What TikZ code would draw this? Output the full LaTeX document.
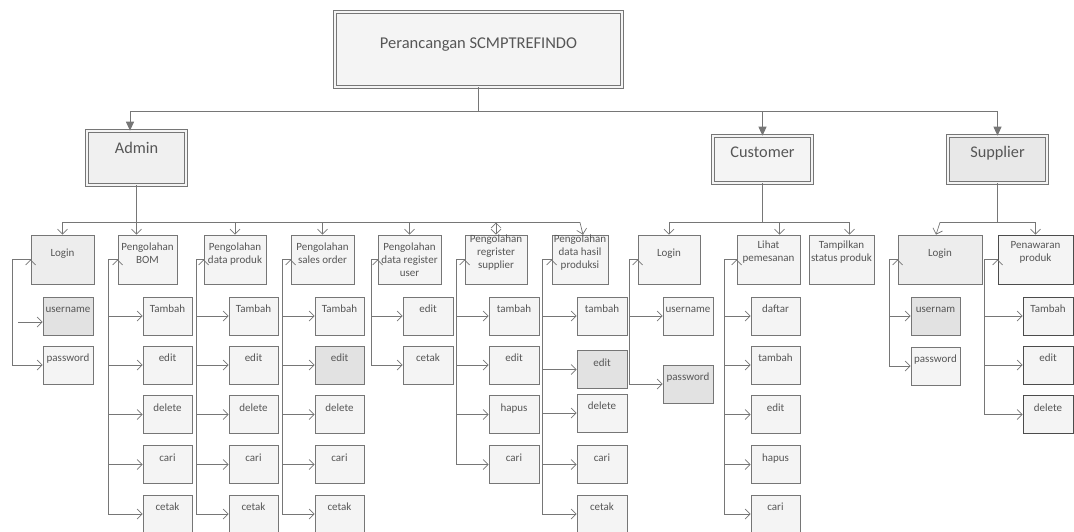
\documentclass[tikz,border=0pt]{standalone}
\usepackage{fontspec}
\setmainfont{Carlito}
\usetikzlibrary{arrows.meta}
\definecolor{lin}{HTML}{767676}
\definecolor{txt}{HTML}{565656}
\definecolor{pale}{HTML}{F4F4F4}
\definecolor{dim}{HTML}{E2E2E2}
\begin{document}
\begin{tikzpicture} [
  x=1pt, y=-1pt,
  font=\fontsize{11}{13}\selectfont, text=txt,
  box/.style={draw=lin, fill=pale, line width=0.7pt, inner xsep=1pt, inner ysep=0pt, align=center},
  dark/.style={fill=dim},
  head/.style={box, double=pale, double distance=2pt, line width=0.6pt,
    font=\fontsize{16.3}{18}\selectfont, minimum width=99, minimum height=47,
    text height=21pt, text depth=26pt},
  menu/.style={box, minimum width=#1, minimum height=49, text height=28.5pt, text depth=20.5pt},
  one/.style={text height=21.5pt, text depth=27.5pt},
  three/.style={text height=41.5pt, text depth=7.5pt},
  high/.style={text height=33.5pt, text depth=15.5pt},
  mid/.style={text height=26.5pt, text depth=22.5pt},
  leaf/.style={box, minimum width=#1, minimum height=38, text height=15.5pt, text depth=22.5pt},
  leaf/.default=49,
  main/.style={draw=lin, line width=0.9pt, -{Triangle[width=8pt,length=9pt]}},
  sub/.style={draw=lin, line width=0.7pt, -{Straight Barb[width=10pt,length=5pt]}},
  brn/.style={to path={-- ++(-#1,0) |- (\tikztotarget)}}]
\useasboundingbox (0,0) rectangle (1074,531);

% top level
\node[head, minimum width=287, minimum height=75, text height=36pt, text depth=39pt, font=\fontsize{16.5}{18}\selectfont] (title) at (478.5,49.5) {Perancangan SCMPTREFINDO};
\node[head, fill=gray!12, minimum height=54, text height=22pt, text depth=32pt] (admin) at (136.5,158) {Admin};
\node[head] (customer) at (762.5,159.5) {Customer};
\node[head, fill=gray!18] (supplier) at (997.5,159.5) {Supplier};

\coordinate (bus) at (130,111);
\coordinate (row) at (0,222.5);
\draw[main] (title.south) |- (bus) -- (bus |- admin.north);
\draw[main] (title.south) |- (supplier.north |- bus) -- (supplier.north);
\draw[main] (customer.north |- bus) -- (customer.north);

% menus
\node[menu=63, one, fill=gray!14] (aLogin) at (62.5,259.5) {Login};
\node[menu=59] (aBOM) at (147.5,259.5) {Pengolahan\\BOM};
\node[menu=62] (aProduk) at (235,259.5) {Pengolahan\\data produk};
\node[menu=63] (aSales) at (322.5,259.5) {Pengolahan\\sales order};
\node[menu=63, three] (aUser) at (409.5,259.5) {Pengolahan\\data register\\user};
\node[menu=62, high] (aSupp) at (496,259.5) {Pengolahan\\regrister\\supplier};
\node[menu=56, high] (aHasil) at (580,259.5) {Pengolahan\\data hasil\\produksi};
\node[menu=62, one] (cLogin) at (669,259.5) {Login};
\node[menu=63, mid] (cLihat) at (768.5,259.5) {Lihat\\pemesanan};
\node[menu=65, mid] (cStatus) at (841.5,259.5) {Tampilkan\\status produk};
\node[menu=84, one, fill=gray!14] (sLogin) at (940,259.5) {Login};
\node[menu=75, mid, draw=gray!60!black] (sTawar) at (1035.5,259.5) {Penawaran\\produk};

\draw[sub] (admin.south) |- (aLogin.north |- row) -- (aLogin.north);
\draw[sub] (admin.south) |- (aHasil.north |- row) -- ([xshift=3]aHasil.north);
\draw[sub] (admin.south) -- (admin.south |- aBOM.north);
\draw[sub] (aProduk.north |- row) edge (aProduk.north)
  (aSales.north |- row) edge (aSales.north)
  (aUser.north |- row) edge (aUser.north)
  (aSupp.north |- row) edge (aSupp.north);
\draw[sub] (customer.south) |- (cLogin.north |- row) -- (cLogin.north);
\draw[sub] (customer.south) |- ([xshift=8]cStatus.north |- row) -- ([xshift=8]cStatus.north);
\draw[sub] ([xshift=11]cLihat.north |- row) -- ([xshift=11]cLihat.north);
\draw[sub] (supplier.south) |- (sLogin.north |- row) -- ([xshift=-4]sLogin.north);
\draw[sub] (supplier.south) |- (sTawar.north |- row) -- (sTawar.north);

% admin login
\node[leaf=50, dark] (aUname) at (68,316) {username};
\node[leaf=50] (aPass) at (68,365) {password};
\coordinate (aFree) at (18,322);
\draw[sub] (aLogin.west) edge[brn=18] (aPass.west);
\draw[sub] (aFree) -- (aFree -| aUname.west);

% BOM
\node[leaf] (bomTambah) at (167.5,316) {Tambah};
\node[leaf] (bomEdit) at (167.5,365) {edit};
\node[leaf] (bomDelete) at (167.5,414.5) {delete};
\node[leaf] (bomCari) at (167.5,464.5) {cari};
\node[leaf] (bomCetak) at (167.5,514) {cetak};
\draw[sub] (aBOM.west) edge[brn=9] (bomTambah.west) edge[brn=9] (bomEdit.west)
  edge[brn=9] (bomDelete.west) edge[brn=9] (bomCari.west) edge[brn=9] (bomCetak.west);

% data produk
\node[leaf] (prdTambah) at (253.5,316) {Tambah};
\node[leaf] (prdEdit) at (253.5,365) {edit};
\node[leaf] (prdDelete) at (253.5,414.5) {delete};
\node[leaf] (prdCari) at (253.5,464.5) {cari};
\node[leaf] (prdCetak) at (253.5,514) {cetak};
\draw[sub] (aProduk.west) edge[brn=7] (prdTambah.west) edge[brn=7] (prdEdit.west)
  edge[brn=7] (prdDelete.west) edge[brn=7] (prdCari.west) edge[brn=7] (prdCetak.west);

% sales order
\node[leaf] (soTambah) at (339.5,316) {Tambah};
\node[leaf, dark] (soEdit) at (339.5,365) {edit};
\node[leaf] (soDelete) at (339.5,414.5) {delete};
\node[leaf] (soCari) at (339.5,464.5) {cari};
\node[leaf] (soCetak) at (339.5,514) {cetak};
\draw[sub] (aSales.west) edge[brn=8] (soTambah.west) edge[brn=8] (soEdit.west)
  edge[brn=8] (soDelete.west) edge[brn=8] (soCari.west) edge[brn=8] (soCetak.west);

% register user
\node[leaf=50] (usrEdit) at (428,316) {edit};
\node[leaf=50] (usrCetak) at (428,365) {cetak};
\draw[sub] (aUser.west) edge[brn=6] (usrEdit.west) edge[brn=6] (usrCetak.west);

% register supplier
\node[leaf=50] (rsTambah) at (514,316) {tambah};
\node[leaf=50] (rsEdit) at (514,365) {edit};
\node[leaf=50] (rsHapus) at (514,414.5) {hapus};
\node[leaf=50] (rsCari) at (514,464.5) {cari};
\draw[sub] (aSupp.west) edge[brn=8] (rsTambah.west) edge[brn=8] (rsEdit.west)
  edge[brn=8] (rsHapus.west) edge[brn=8] (rsCari.west);

% hasil produksi
\node[leaf=50] (hpTambah) at (602,316) {tambah};
\node[leaf=50, dark, minimum height=37] (hpEdit) at (602,369.5) {edit};
\node[leaf=50] (hpDelete) at (602,413) {delete};
\node[leaf=50] (hpCari) at (602,464.5) {cari};
\node[leaf=50] (hpCetak) at (602,514) {cetak};
\draw[sub] (aHasil.west) edge[brn=9] (hpTambah.west) edge[brn=9] (hpEdit.west)
  edge[brn=9] (hpDelete.west) edge[brn=9] (hpCari.west) edge[brn=9] (hpCetak.west);

% customer login
\node[leaf=50] (clUser) at (688,316) {username};
\node[leaf=50, dark] (clPass) at (688,384) {password};
\draw[sub] (cLogin.west) edge[brn=8] (clUser.west) edge[brn=8] (clPass.west);

% lihat pemesanan
\node[leaf] (lpDaftar) at (775.5,316) {daftar};
\node[leaf] (lpTambah) at (775.5,365) {tambah};
\node[leaf] (lpEdit) at (775.5,414.5) {edit};
\node[leaf] (lpHapus) at (775.5,464.5) {hapus};
\node[leaf] (lpCari) at (775.5,514) {cari};
\draw[sub] (cLihat.west) edge[brn=12] (lpDaftar.west) edge[brn=12] (lpTambah.west)
  edge[brn=12] (lpEdit.west) edge[brn=12] (lpHapus.west) edge[brn=12] (lpCari.west);

% supplier login
\node[leaf, dark] (slUser) at (935.5,316) {usernam};
\node[leaf] (slPass) at (935.5,366) {password};
\draw[sub] (sLogin.west) edge[brn=8] (slUser.west) edge[brn=8] (slPass.west);

% penawaran produk
\node[leaf=50, draw=gray!60!black] (pwTambah) at (1048,316) {Tambah};
\node[leaf=50, draw=gray!60!black] (pwEdit) at (1048,365) {edit};
\node[leaf=50, draw=gray!60!black] (pwDelete) at (1048,414.5) {delete};
\draw[sub] (sTawar.west) edge[brn=13] (pwTambah.west) edge[brn=13] (pwEdit.west)
  edge[brn=13] (pwDelete.west);
\end{tikzpicture}
\end{document}
